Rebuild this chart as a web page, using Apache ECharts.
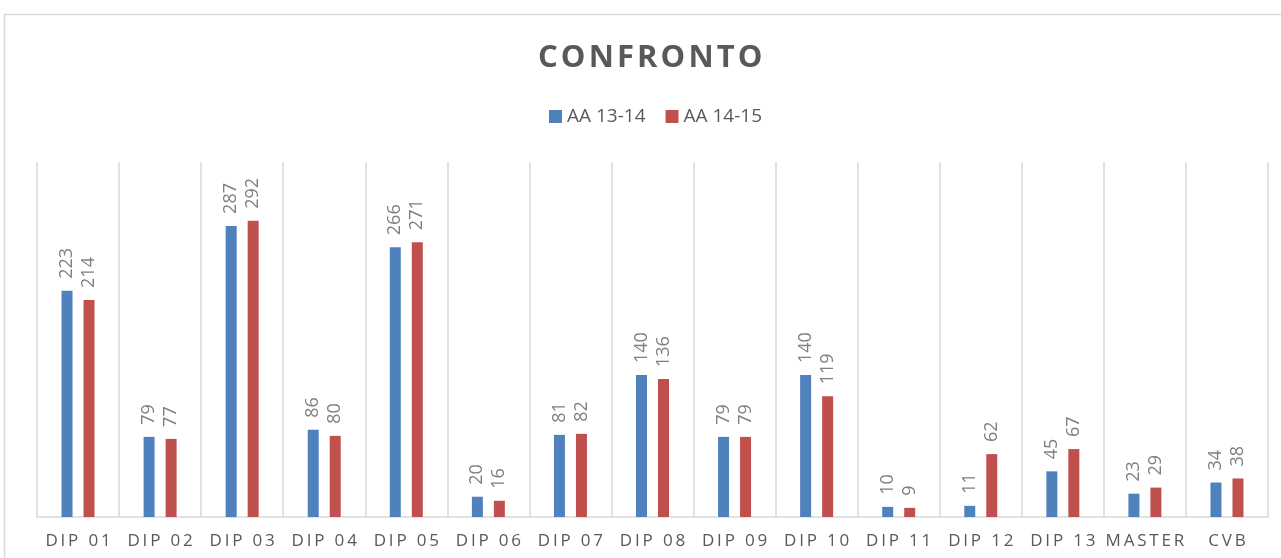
<!DOCTYPE html>
<html>
<head>
<meta charset="utf-8">
<script src="https://cdn.jsdelivr.net/npm/echarts@6/dist/echarts.min.js"></script>
<style>
  html, body { margin: 0; padding: 0; background: #fff; }
  #chart { width: 1281px; height: 558px; }
</style>
</head>
<body>
<div id="chart"></div>
<script>
const categories = ['DIP 01', 'DIP 02', 'DIP 03', 'DIP 04', 'DIP 05', 'DIP 06', 'DIP 07', 'DIP 08',
  'DIP 09', 'DIP 10', 'DIP 11', 'DIP 12', 'DIP 13', 'MASTER', 'CVB']
const aa1314 = [223, 79, 287, 86, 266, 20, 81, 140, 79, 140, 10, 11, 45, 23, 34]
const aa1415 = [214, 77, 292, 80, 271, 16, 82, 136, 79, 119, 9, 62, 67, 29, 38]
const seriesNames = ['AA 13-14', 'AA 14-15']
const colors = ['#4F81BD', '#C0504D']

// spread letters a bit, like the spaced text of the original
const spread = (text, gap) => text.split('').join(gap)

const chart = echarts.init(document.getElementById('chart'))

const valueLabel = {
  show: true,
  position: 'top',
  distance: 12,
  rotate: 90,
  align: 'left',
  verticalAlign: 'middle',
  color: '#7f7f7f',
  fontFamily: 'Open Sans',
  fontSize: 18
}

chart.setOption({
  animation: false,
  textStyle: { fontFamily: 'Open Sans' },
  graphic: [{
    type: 'rect',
    shape: { x: 4.5, y: 14.5, width: 1400, height: 700 },
    style: { fill: 'none', stroke: '#d9d9d9', lineWidth: 1.5 },
    silent: true
  }],
  title: {
    text: spread('CONFRONTO', '\u200A'),
    left: 533,
    top: 38,
    textStyle: {
      fontFamily: 'Open Sans',
      fontSize: 31,
      fontWeight: 'bold',
      color: '#595959'
    }
  },
  legend: {
    top: 102,
    left: 544,
    itemWidth: 13,
    itemHeight: 13,
    itemGap: 20,
    icon: 'rect',
    textStyle: { fontFamily: 'Open Sans', fontSize: 19, color: '#595959' },
    data: seriesNames
  },
  grid: {
    left: 37,
    right: 13,
    top: 162,
    bottom: 41
  },
  xAxis: {
    type: 'category',
    data: categories,
    axisTick: { show: false },
    axisLine: { lineStyle: { color: '#d9d9d9', width: 1.5 } },
    splitLine: { show: true, interval: 0, lineStyle: { color: '#d9d9d9', width: 1.5 } },
    axisLabel: {
      interval: 0,
      margin: 16,
      fontFamily: 'Open Sans',
      fontSize: 17,
      color: '#595959',
      formatter: (value) => spread(value, '\u2009')
    }
  },
  yAxis: {
    type: 'value',
    min: 0,
    max: 350,
    show: false,
    splitLine: { show: false }
  },
  series: [{
    name: seriesNames[0],
    type: 'bar',
    barWidth: 11,
    barGap: '100%',
    itemStyle: { color: colors[0] },
    label: valueLabel,
    data: aa1314
  }, {
    name: seriesNames[1],
    type: 'bar',
    barWidth: 11,
    barGap: '100%',
    itemStyle: { color: colors[1] },
    label: valueLabel,
    data: aa1415
  }]
})
</script>
</body>
</html>
